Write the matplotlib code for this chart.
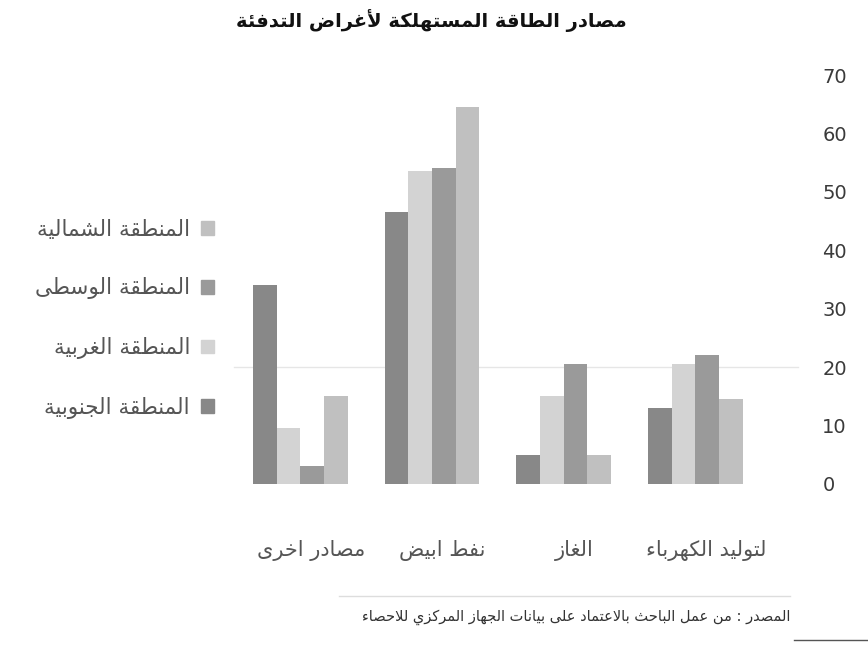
import numpy as np
import matplotlib
matplotlib.use("Agg")
import matplotlib.pyplot as plt
from matplotlib.patches import Patch

# --- data ---
categories = ["مصادر اخرى", "نفط ابيض", "الغاز", "لتوليد الكهرباء"]
janubiya = [34, 46.5, 5, 13]      # المنطقة الجنوبية
gharbiya = [9.5, 53.5, 15, 20.5]  # المنطقة الغربية
wusta = [3, 54, 20.5, 22]         # المنطقة الوسطى
shamaliya = [15, 64.5, 5, 14.5]   # المنطقة الشمالية
y_ticks = [0, 10, 20, 30, 40, 50, 60, 70]

title = "مصادر الطاقة المستهلكة لأغراض التدفئة"
source = "المصدر : من عمل الباحث بالاعتماد على بيانات الجهاز المركزي للاحصاء"

# --- minimal arabic shaping (matplotlib has no bidi / joining) ---
DUAL = {"ئ": 0xFE89, "ب": 0xFE8F, "ت": 0xFE95, "ث": 0xFE99, "ج": 0xFE9D, "ح": 0xFEA1,
        "خ": 0xFEA5, "س": 0xFEB1, "ش": 0xFEB5, "ص": 0xFEB9, "ض": 0xFEBD, "ط": 0xFEC1,
        "ظ": 0xFEC5, "ع": 0xFEC9, "غ": 0xFECD, "ف": 0xFED1, "ق": 0xFED5, "ك": 0xFED9,
        "ل": 0xFEDD, "م": 0xFEE1, "ن": 0xFEE5, "ه": 0xFEE9, "ي": 0xFEF1}
RIGHT = {"آ": 0xFE81, "أ": 0xFE83, "ؤ": 0xFE85, "إ": 0xFE87, "ا": 0xFE8D, "ة": 0xFE93,
         "د": 0xFEA9, "ذ": 0xFEAB, "ر": 0xFEAD, "ز": 0xFEAF, "و": 0xFEED, "ى": 0xFEEF}
LAMALEF = {"آ": 0xFEF5, "أ": 0xFEF7, "إ": 0xFEF9, "ا": 0xFEFB}


def shape(text):
    # merge lam + alef into one token first
    toks = []
    i = 0
    while i < len(text):
        if text[i] == "ل" and i + 1 < len(text) and text[i + 1] in LAMALEF:
            toks.append(("LA", LAMALEF[text[i + 1]]))
            i += 2
        else:
            toks.append(("C", text[i]))
            i += 1

    def kind(t):
        if t[0] == "LA":
            return "R"
        if t[1] in DUAL:
            return "D"
        if t[1] in RIGHT:
            return "R"
        return None

    out = []
    for j, t in enumerate(toks):
        k = kind(t)
        if k is None:
            out.append(t[1])
            continue
        prev_k = kind(toks[j - 1]) if j > 0 else None
        next_k = kind(toks[j + 1]) if j + 1 < len(toks) else None
        jp = prev_k == "D"
        jn = k == "D" and next_k is not None
        if t[0] == "LA":
            out.append(chr(t[1] + (1 if jp else 0)))
        elif k == "R":
            out.append(chr(RIGHT[t[1]] + (1 if jp else 0)))
        else:
            off = 3 if (jp and jn) else 2 if jn else 1 if jp else 0
            out.append(chr(DUAL[t[1]] + off))
    return "".join(out)[::-1]


plt.rcParams["font.family"] = ["DejaVu Sans"]

fig = plt.figure(figsize=(8.68, 6.5), dpi=100)
ax = fig.add_axes([0.27, 0.2554, 0.607, 0.6292])

x = np.arange(len(categories))
w = 0.18
series = [
    (janubiya, "#888888", "المنطقة الجنوبية"),
    (gharbiya, "#d3d3d3", "المنطقة الغربية"),
    (wusta, "#9a9a9a", "المنطقة الوسطى"),
    (shamaliya, "#c0c0c0", "المنطقة الشمالية"),
]
for i, (vals, col, _) in enumerate(series):
    ax.bar(x + (i - 1.5) * w, vals, w, color=col, zorder=3)

ax.axhline(20, xmin=0, xmax=1.07, color="#e6e6e6", lw=1, zorder=1, clip_on=False)

ax.set_xlim(-0.5, 3.5)
ax.set_ylim(0, 70)
ax.set_yticks(y_ticks)
ax.yaxis.tick_right()
ax.tick_params(axis="y", length=0, pad=44, labelsize=14, labelcolor="#3a3a3a")
ax.set_xticks(x + 0.08)
ax.set_xticklabels([shape(c) for c in categories], fontsize=15, color="#555555")
ax.tick_params(axis="x", length=0, pad=40)
for s in ax.spines.values():
    s.set_visible(False)

fig.text(0.497, 0.968, shape(title), ha="center", va="center",
         fontsize=14, fontweight="bold", color="#111111")

# legend, marker on the right of the text
handles = [Patch(color=col, label=shape(lab)) for _, col, lab in series[::-1]]
fig.legend(handles=handles, loc="center left", bbox_to_anchor=(0.018, 0.509),
           frameon=False, markerfirst=False, fontsize=15.5, labelcolor="#555555",
           labelspacing=1.75, handlelength=0.6, handleheight=0.6, handletextpad=0.5)

# source note with faint rule above, page line bottom right
fig.add_artist(plt.Line2D([0.39, 0.91], [0.083, 0.083], color="#dddddd", lw=1))
fig.add_artist(plt.Line2D([0.915, 1.0], [0.016, 0.016], color="#555555", lw=1))
fig.text(0.91, 0.05, shape(source), ha="right", va="center",
         fontsize=10.5, color="#333333")

fig.savefig("out.png", dpi=100)
